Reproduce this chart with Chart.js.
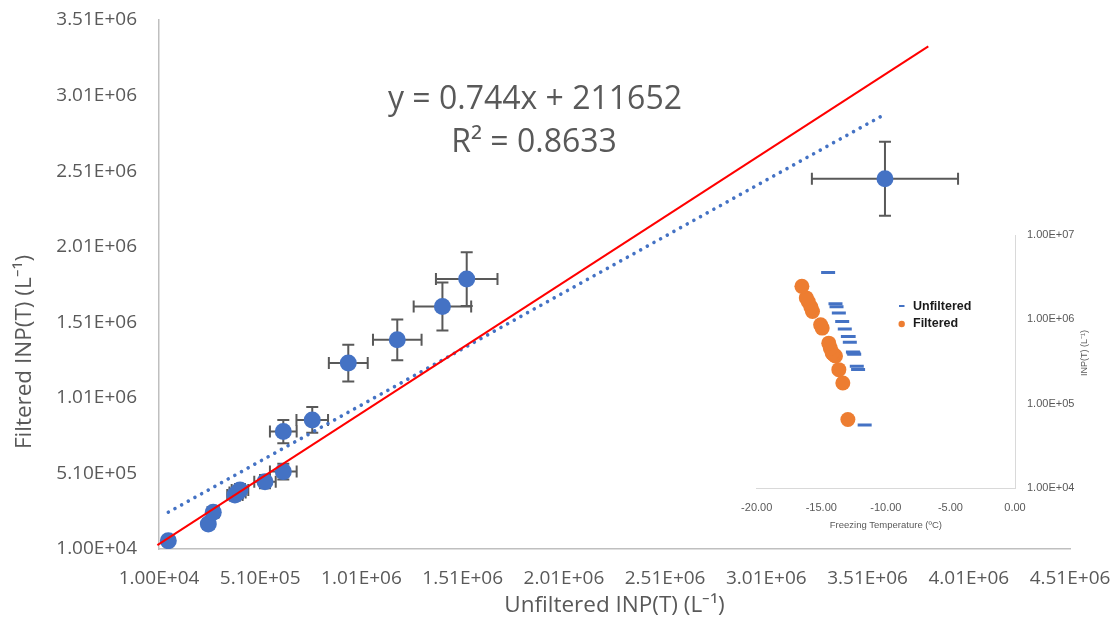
<!DOCTYPE html>
<html><head><meta charset="utf-8">
<script src="https://cdn.jsdelivr.net/npm/chart.js@4.4.1/dist/chart.umd.min.js"></script>
<style>
html,body{margin:0;padding:0;background:#fff;}
#wrap{position:relative;width:1120px;height:619px;overflow:hidden;}
#main{position:absolute;left:0;top:0;}
#inset{position:absolute;left:720px;top:220px;}
</style></head><body>
<div id="wrap"><canvas id="main" width="1120" height="619"></canvas><canvas id="inset" width="380" height="320"></canvas></div>
<script>
// ---- data ----
const unfilteredINP = [56000, 253500, 278000, 385000, 398000, 410000, 533600, 624000, 624000, 767000, 945000, 1187000, 1410000, 1530000, 3596000];
const filteredINP   = [65000, 175500, 253000, 367600, 384000, 400700, 455700, 522000, 787000, 864000, 1240000, 1394000, 1614000, 1796000, 2460000];
const unfilteredErr = [5600, 25000, 28000, 38000, 40000, 41000, 53000, 66000, 66000, 78000, 96000, 120000, 142000, 152000, 361000];
const filteredErr   = [6500, 17500, 25000, 37000, 38000, 40000, 44000, 52000, 77000, 85000, 121000, 135000, 159000, 178000, 245000];
const refLineX = [2000, 3810000];
const refLineY = [36000, 3336000];
const trendX = [56000, 3596000];
const trendY = [253316, 2887076];
const xTicks = [1e4, 5.1e5, 1.01e6, 1.51e6, 2.01e6, 2.51e6, 3.01e6, 3.51e6, 4.01e6, 4.51e6];
const yTicks = [1e4, 5.1e5, 1.01e6, 1.51e6, 2.01e6, 2.51e6, 3.01e6, 3.51e6];
const equationText = 'y = 0.744x + 211652';
const r2Text = 'R² = 0.8633';
// inset
const unfilteredTemp = [-11.64, -12.15, -12.25, -12.45, -12.50, -12.55, -12.79, -12.88, -12.94, -13.18, -13.38, -13.64, -13.82, -13.90, -14.47];
const filteredTemp   = [-12.94, -13.33, -13.64, -13.90, -14.05, -14.16, -14.30, -14.42, -14.93, -15.05, -15.68, -15.80, -16.00, -16.16, -16.50];
const insetXTicks = [-20, -15, -10, -5, 0];
const insetYTicks = [1e4, 1e5, 1e6, 1e7];
const insetLegend = ['Unfiltered', 'Filtered'];

function sci(v){
  const [m,e] = Number(v).toExponential(2).split('e');
  const n = parseInt(e,10);
  return m + 'E' + (n<0?'-':'+') + String(Math.abs(n)).padStart(2,'0');
}
function noPad(s){ s.paddingTop = 0; s.paddingBottom = 0; s.paddingLeft = 0; s.paddingRight = 0; }
const GRAY = '#595959';
const BLUE = '#4472C4';
const ORANGE = '#ED7D31';
const OS = "'Open Sans', sans-serif";
const LS = "'Liberation Sans', Arial, sans-serif";

const errorBars = {
  id:'errorBars',
  beforeDatasetsDraw(chart){
    const ctx = chart.ctx, xs = chart.scales.x, ys = chart.scales.y;
    ctx.save();
    ctx.strokeStyle = GRAY; ctx.lineWidth = 2;
    const cap = 6;
    for (let i=0;i<unfilteredINP.length;i++){
      const px = xs.getPixelForValue(unfilteredINP[i]);
      const py = ys.getPixelForValue(filteredINP[i]);
      const x0 = xs.getPixelForValue(unfilteredINP[i]-unfilteredErr[i]);
      const x1 = xs.getPixelForValue(unfilteredINP[i]+unfilteredErr[i]);
      const y0 = ys.getPixelForValue(filteredINP[i]-filteredErr[i]);
      const y1 = ys.getPixelForValue(filteredINP[i]+filteredErr[i]);
      ctx.beginPath();
      ctx.moveTo(x0,py); ctx.lineTo(x1,py);
      ctx.moveTo(x0,py-cap); ctx.lineTo(x0,py+cap);
      ctx.moveTo(x1,py-cap); ctx.lineTo(x1,py+cap);
      ctx.moveTo(px,y0); ctx.lineTo(px,y1);
      ctx.moveTo(px-cap,y0); ctx.lineTo(px+cap,y0);
      ctx.moveTo(px-cap,y1); ctx.lineTo(px+cap,y1);
      ctx.stroke();
    }
    ctx.restore();
  }
};

const mainText = {
  id:'mainText',
  afterDraw(chart){
    const ctx = chart.ctx;
    ctx.save();
    ctx.fillStyle = GRAY;
    ctx.textAlign = 'center';
    ctx.textBaseline = 'alphabetic';
    ctx.font = "32px " + OS;
    ctx.fillText(equationText, 535, 108.5);
    ctx.fillText(r2Text, 534, 151.5);
    ctx.translate(25, 352);
    ctx.rotate(-Math.PI/2);
    ctx.textBaseline = 'middle';
    ctx.font = "22.5px " + OS;
    ctx.fillText('Filtered INP(T) (L⁻¹)', 0, 0);
    ctx.restore();
  }
};

new Chart(document.getElementById('main'), {
  type:'scatter',
  data:{datasets:[
    {label:'1:1', type:'line', data: refLineX.map((x,i)=>({x:x, y:refLineY[i]})), borderColor:'#FF0000', borderWidth:2, pointRadius:0, clip:false, order:1, fill:false},
    {label:'Linear trend', type:'line', data: trendX.map((x,i)=>({x:x, y:trendY[i]})), borderColor:BLUE, borderWidth:3.6, borderDash:[0.01, 7.6], borderCapStyle:'round', pointRadius:0, order:2, fill:false},
    {label:'INP', data: unfilteredINP.map((x,i)=>({x:x, y:filteredINP[i]})), backgroundColor:BLUE, borderWidth:0, pointRadius:8.5, pointHoverRadius:8.5, order:3}
  ]},
  options:{
    responsive:false, animation:false, devicePixelRatio:1,
    layout:{padding:{top:20, right:50, left:0, bottom:0}},
    plugins:{legend:{display:false}, tooltip:{enabled:false}},
    scales:{
      x:{type:'linear', min:1e4, max:4.51e6,
        afterBuildTicks: s=>{ s.ticks = xTicks.map(v=>({value:v})); },
        afterFit: s=>{ s.height = 70; noPad(s); },
        grid:{display:false, drawTicks:false},
        border:{color:'#bfbfbf', width:1.5},
        ticks:{color:GRAY, font:{family:OS, size:19}, padding:18, maxRotation:0, autoSkip:false, callback:v=>sci(v)},
        title:{display:true, text:'Unfiltered INP(T) (L⁻¹)', color:GRAY, font:{family:OS, size:22.5}, padding:{top:0,bottom:0}}
      },
      y:{type:'linear', min:1e4, max:3.51e6,
        afterBuildTicks: s=>{ s.ticks = yTicks.map(v=>({value:v})); },
        afterFit: s=>{ s.width = 159; noPad(s); },
        grid:{display:false, drawTicks:false},
        border:{color:'#bfbfbf', width:1.5},
        ticks:{color:GRAY, font:{family:OS, size:19}, padding:22, autoSkip:false, callback:v=>sci(v)}
      }
    }
  },
  plugins:[errorBars, mainText]
});

const insetExtras = {
  id:'insetExtras',
  afterDraw(chart){
    const ctx = chart.ctx;
    ctx.save();
    // legend
    ctx.strokeStyle = BLUE; ctx.lineWidth = 2;
    ctx.beginPath(); ctx.moveTo(179, 86); ctx.lineTo(184.5, 86); ctx.stroke();
    ctx.fillStyle = ORANGE;
    ctx.beginPath(); ctx.arc(181.7, 104, 3.2, 0, Math.PI*2); ctx.fill();
    ctx.fillStyle = '#1a1a1a';
    ctx.font = "bold 12.5px " + LS;
    ctx.textAlign = 'left'; ctx.textBaseline = 'middle';
    ctx.fillText(insetLegend[0], 193, 87);
    ctx.fillText(insetLegend[1], 193, 104);
    // y title
    ctx.fillStyle = GRAY;
    ctx.font = "9px " + LS;
    ctx.translate(365, 133);
    ctx.rotate(-Math.PI/2);
    ctx.textAlign = 'center';
    ctx.fillText('INP(T) (L⁻¹)', 0, 0);
    ctx.restore();
  }
};

new Chart(document.getElementById('inset'), {
  type:'scatter',
  data:{datasets:[
    {label:insetLegend[0], data: unfilteredTemp.map((t,i)=>({x:t, y:unfilteredINP[i]})), pointStyle:'line', borderColor:BLUE, backgroundColor:BLUE, borderWidth:3, pointRadius:7, pointHoverRadius:7},
    {label:insetLegend[1], data: filteredTemp.map((t,i)=>({x:t, y:filteredINP[i]})), backgroundColor:ORANGE, borderWidth:0, pointRadius:7.5, pointHoverRadius:7.5}
  ]},
  options:{
    responsive:false, animation:false, devicePixelRatio:1,
    layout:{padding:{top:15, right:0, left:36.7, bottom:0}},
    plugins:{legend:{display:false}, tooltip:{enabled:false}},
    scales:{
      x:{type:'linear', min:-20, max:0,
        afterBuildTicks: s=>{ s.ticks = insetXTicks.map(v=>({value:v})); },
        afterFit: s=>{ s.height = 52; noPad(s); },
        grid:{display:false, drawTicks:false},
        border:{color:'#d9d9d9', width:1},
        ticks:{color:GRAY, font:{family:LS, size:11}, padding:13, maxRotation:0, autoSkip:false, callback:v=>Number(v).toFixed(2)},
        title:{display:true, text:'Freezing Temperature (ºC)', color:GRAY, font:{family:LS, size:9.5}, padding:{top:0,bottom:9}}
      },
      y:{type:'logarithmic', position:'right', min:1e4, max:1e7,
        afterBuildTicks: s=>{ s.ticks = insetYTicks.map(v=>({value:v})); },
        afterFit: s=>{ s.width = 85; noPad(s); },
        grid:{display:false, drawTicks:false},
        border:{color:'#d9d9d9', width:1},
        ticks:{color:GRAY, font:{family:LS, size:11}, padding:12, autoSkip:false, callback:v=>sci(v)}
      }
    }
  },
  plugins:[insetExtras]
});
</script>
</body></html>
